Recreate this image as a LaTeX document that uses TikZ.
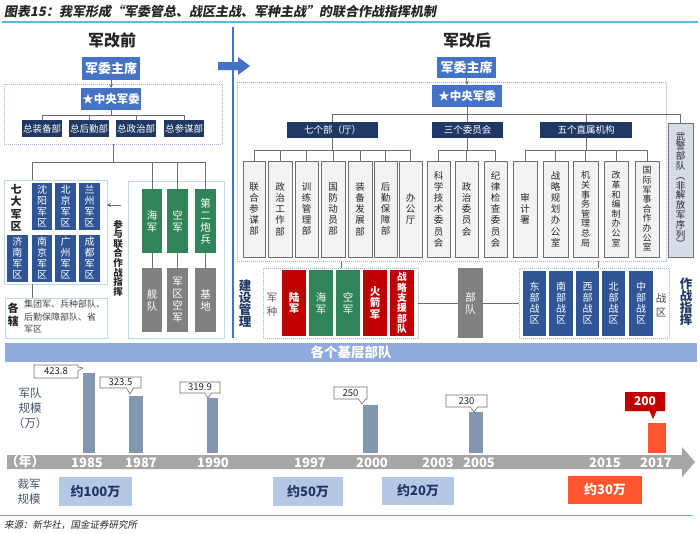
\documentclass[tikz,border=0pt]{standalone}
\usepackage{fontspec}
\setmainfont{Noto Sans CJK SC}
\newfontfamily\ttlfont[FakeSlant=0.18]{Noto Sans CJK SC}
\usetikzlibrary{arrows.meta}
\definecolor{cBlue}{HTML}{4472C4}
\definecolor{cNavy}{HTML}{1F3864}
\definecolor{cReg}{HTML}{2F5597}
\definecolor{cGreen}{HTML}{2F8559}
\definecolor{cGray}{HTML}{808080}
\definecolor{cRed}{HTML}{C00000}
\definecolor{cOr}{HTML}{FF5630}
\definecolor{cBand}{HTML}{8FAADC}
\definecolor{cBar}{HTML}{8497B0}
\definecolor{cLB}{HTML}{B4C7E7}
\definecolor{cVF}{HTML}{F2F2F2}
\definecolor{cWJ}{HTML}{D6DCE5}
\definecolor{cLine}{HTML}{6F6F6F}
\definecolor{cCont}{HTML}{BDD7EE}
\definecolor{cDot}{HTML}{9DB5D8}
\definecolor{cSky}{HTML}{5DB7E2}
\definecolor{cTL}{HTML}{A6A6A6}
\definecolor{cBT}{HTML}{44546A}
\definecolor{cTxt}{HTML}{262626}
\tikzset{
  boxbase/.style={inner sep=0pt, outer sep=0pt, align=center},
  bluebox/.style={fill=cBlue, text=white, font=\bfseries\fontsize{13}{13}\selectfont},
  bluebox2/.style={fill=cBlue, text=white, font=\bfseries\fontsize{11.5}{11.5}\selectfont},
  navybox/.style={fill=cNavy, text=white, font=\fontsize{9.5}{9.5}\selectfont},
  regbox/.style={fill=cReg, text=white, font=\fontsize{10}{11}\selectfont},
  greenbox/.style={fill=cGreen, text=white, font=\fontsize{10.5}{12}\selectfont},
  graybox/.style={fill=cGray, text=white, font=\fontsize{10.5}{12}\selectfont},
  redbox/.style={fill=cRed, text=white, font=\bfseries\fontsize{10.5}{11.5}\selectfont},
  redbox6/.style={fill=cRed, text=white, font=\bfseries\fontsize{9.8}{10.4}\selectfont},
  vbox/.style={fill=cVF, draw=cLine, line width=0.8pt, text=cTxt, font=\fontsize{9.5}{11.2}\selectfont},
  vboxs/.style={vbox, font=\fontsize{9}{9.6}\selectfont},
  cont/.style={draw=cCont, line width=0.7pt, fill=white},
  dcont/.style={draw=cDot, line width=0.5pt, dash pattern=on 1pt off 1pt},
  conn/.style={draw=cLine, line width=0.7pt},
  arr/.style={conn, -{Stealth[length=4pt,width=4pt]}},
  barbox/.style={fill=cBar},
  lbbox/.style={fill=cLB, text=cNavy, font=\bfseries\fontsize{13}{13}\selectfont},
  yearlbl/.style={text=white, font=\bfseries\fontsize{13}{13}\selectfont, inner sep=0pt},
  headtxt/.style={text=cTxt, font=\bfseries\fontsize{16}{16}\selectfont},
  sidetxt/.style={text=cBT, font=\fontsize{11.5}{15}\selectfont, align=center, inner sep=0pt},
  calloutw/.style={fill=white, draw=cLine, line width=0.6pt},
}
\newcommand\mybox[7]{\node[boxbase,#6,minimum width={(#4-#2)*1pt},minimum height={(#5-#3)*1pt}] (#1) at ({(#2+#4)/2},{(#3+#5)/2}) {#7};}
\newcommand\mycallout[9]{%
  \path[#8] (#2,#3) -- (#4,#3) -- (#4,#5) -- ({#6+3.5},#5) -- (#6,#7) -- ({#6-3.5},#5) -- (#2,#5) -- cycle;
  \node[inner sep=0pt] (#1) at ({(#2+#4)/2},{(#3+#5)/2}) {#9};}
\begin{document}
\begin{tikzpicture}[x=1pt,y=-1pt]
\useasboundingbox (0,0) rectangle (700,533);
\fill[white] (0,0) rectangle (700,533);
% title
\node[anchor=west, inner sep=0pt, text=cTxt, font=\ttlfont\bfseries\fontsize{13}{13}\selectfont] (title) at (4,12) {图表15：我军形成“军委管总、战区主战、军种主战”的联合作战指挥机制};
\draw[cSky, line width=1.5pt] (2,22) -- (698,22);
% divider and arrow
\draw[cBlue, line width=1.5pt] (233,27) -- (233,338);
\fill[cBlue] (218,62) -- (238,62) -- (238,57) -- (250,66) -- (238,75) -- (238,70) -- (218,70) -- cycle;

%================ LEFT ================
\node[headtxt] (lhead) at (112,40) {军改前};
\mybox{lcont}{4}{84}{222}{144}{dcont}{}
\mybox{ljw}{82}{57}{140}{80}{bluebox}{军委主席}
\mybox{lzy}{81}{88}{141}{110}{bluebox2}{★中央军委}
\draw[arr] (ljw.south) -- (lzy.north);
\mybox{lz1}{22}{120}{62}{137}{navybox}{总装备部}
\mybox{lz2}{69}{120}{109}{137}{navybox}{总后勤部}
\mybox{lz3}{116}{120}{156}{137}{navybox}{总政治部}
\mybox{lz4}{164}{120}{204}{137}{navybox}{总参谋部}
\foreach \c in {lz1,lz2,lz3,lz4} \draw[conn] (lzy.south) -- ++(0,5) -| (\c.north);

\mybox{qd}{4}{180}{107}{284}{cont}{}
\node[boxbase, text=cTxt, font=\bfseries\fontsize{11}{12.5}\selectfont] (qdt) at (16,208) {七\\大\\军\\区};
\mybox{r1}{32}{183}{52}{230}{regbox}{沈\\阳\\军\\区}
\mybox{r2}{55}{183}{76}{230}{regbox}{北\\京\\军\\区}
\mybox{r3}{79}{183}{100}{230}{regbox}{兰\\州\\军\\区}
\mybox{r4}{7}{235}{28}{282}{regbox}{济\\南\\军\\区}
\mybox{r5}{32}{235}{52}{282}{regbox}{南\\京\\军\\区}
\mybox{r6}{55}{235}{76}{282}{regbox}{广\\州\\军\\区}
\mybox{r7}{79}{235}{100}{282}{regbox}{成\\都\\军\\区}

\mybox{gx}{5}{298}{107}{338}{cont}{}
\node[boxbase, text=cTxt, font=\bfseries\fontsize{11}{13}\selectfont] (gxt) at (13,315) {各\\辖};
\node[anchor=north west, inner sep=0pt, align=left, text=cTxt!85, font=\fontsize{9}{12.5}\selectfont] (gxd) at (24,300) {集团军、兵种部队、\\后勤保障部队、省\\军区};

\mybox{jz}{128}{181}{224}{338}{cont}{}
\mybox{g1}{142}{189}{162}{253}{greenbox}{海\\军}
\mybox{g2}{167}{189}{188}{253}{greenbox}{空\\军}
\mybox{g3}{195}{189}{216}{253}{greenbox}{第\\二\\炮\\兵}
\mybox{h1}{142}{268}{162}{332}{graybox}{舰\\队}
\mybox{h2}{167}{268}{188}{332}{graybox}{军\\区\\空\\军}
\mybox{h3}{195}{268}{216}{332}{graybox}{基\\地}
\draw[conn] (g1.south) -- (h1.north);
\draw[conn] (g2.south) -- (h2.north);
\draw[conn] (g3.south) -- (h3.north);
\draw[conn] (lcont.south) -- ++(0,18) -| (qd.north -| 32,0);
\foreach \c in {g1,g2,g3} \draw[conn] (lcont.south) -- ++(0,18) -| (\c.north);
\draw[conn] (qd.south -| 32,0) -- (gx.north -| 32,0);
\coordinate (cyar) at (121,205);
\draw[arr] (cyar) -- (qd.east |- cyar);
\node[boxbase, text=cTxt, font=\bfseries\fontsize{9.5}{9.6}\selectfont] (cy) at (118,258) {参\\与\\联\\合\\作\\战\\指\\挥};

%================ RIGHT ================
\node[headtxt] (rhead) at (467,40) {军改后};
\mybox{rcont}{237}{82}{666}{261}{dcont}{}
\mybox{rjw}{437}{57}{496}{78}{bluebox}{军委主席}
\mybox{rzy}{432}{85}{502}{107}{bluebox2}{★中央军委}
\draw[arr] (rjw.south) -- (rzy.north);
\mybox{qgb}{287}{122}{378}{138}{navybox}{七个部（厅）}
\mybox{sgw}{432}{122}{503}{138}{navybox}{三个委员会}
\mybox{wgz}{540}{122}{632}{138}{navybox}{五个直属机构}
\mybox{wj}{668}{123}{693}{257}{fill=cWJ, draw=cLine, line width=0.8pt, text=cTxt, font=\fontsize{9.5}{9.8}\selectfont}{武\\警\\部\\队\\︵\\非\\解\\放\\军\\序\\列\\︶}
\foreach \c in {qgb,sgw,wgz,wj} \draw[conn] (rzy.south) -- ++(0,7) -| (\c.north);

\mybox{v1}{243}{161}{265}{257}{vbox}{联\\合\\参\\谋\\部}
\mybox{v2}{268}{161}{292}{257}{vbox}{政\\治\\工\\作\\部}
\mybox{v3}{295}{161}{318}{257}{vbox}{训\\练\\管\\理\\部}
\mybox{v4}{321}{161}{345}{257}{vbox}{国\\防\\动\\员\\部}
\mybox{v5}{348}{161}{372}{257}{vbox}{装\\备\\发\\展\\部}
\mybox{v6}{374}{161}{397}{257}{vbox}{后\\勤\\保\\障\\部}
\mybox{v7}{399}{161}{422}{257}{vbox}{办\\公\\厅}
\foreach \c in {v1,v2,v3,v4,v5,v6,v7} \draw[conn] (qgb.south) -- ++(0,12) -| (\c.north);
\mybox{c1}{427}{161}{450}{257}{vbox}{科\\学\\技\\术\\委\\员\\会}
\mybox{c2}{455}{161}{478}{257}{vbox}{政\\治\\委\\员\\会}
\mybox{c3}{484}{161}{507}{257}{vbox}{纪\\律\\检\\查\\委\\员\\会}
\foreach \c in {c1,c2,c3} \draw[conn] (sgw.south) -- ++(0,12) -| (\c.north);
\mybox{d1}{513}{161}{537}{257}{vbox}{审\\计\\署}
\mybox{d2}{543}{161}{568}{257}{vbox}{战\\略\\规\\划\\办\\公\\室}
\mybox{d3}{573}{161}{598}{257}{vboxs}{机\\关\\事\\务\\管\\理\\总\\局}
\mybox{d4}{604}{161}{628}{257}{vboxs}{改\\革\\和\\编\\制\\办\\公\\室}
\mybox{d5}{635}{161}{659}{257}{vboxs}{国\\际\\军\\事\\合\\作\\办\\公\\室}
\foreach \c in {d1,d2,d3,d4,d5} \draw[conn] (wgz.south) -- ++(0,12) -| (\c.north);

\node[boxbase, text=cNavy, font=\bfseries\fontsize{12.5}{12}\selectfont] (jsgl) at (245,304) {建\\设\\管\\理};
\node[boxbase, text=cNavy, font=\bfseries\fontsize{12.5}{12}\selectfont] (zzzh) at (686,302) {作\\战\\指\\挥};

\mybox{jzR}{263}{268}{418}{338}{dcont}{}
\node[boxbase, text=cTxt!75, font=\fontsize{10.5}{14}\selectfont] (jzt) at (272,305) {军\\种};
\mybox{lj}{282}{270}{306}{336}{redbox}{陆\\军}
\mybox{hj}{309}{270}{333}{336}{greenbox}{海\\军}
\mybox{kj}{336}{270}{360}{336}{greenbox}{空\\军}
\mybox{hjj}{363}{270}{387}{336}{redbox}{火\\箭\\军}
\mybox{zl}{390}{270}{414}{336}{redbox6}{战\\略\\支\\援\\部\\队}
\mybox{bd}{458}{268}{483}{338}{graybox}{部\\队}
\mybox{zq}{519}{268}{669}{338}{dcont}{}
\mybox{e1}{523}{271}{546}{336}{regbox}{东\\部\\战\\区}
\mybox{e2}{549}{271}{573}{336}{regbox}{南\\部\\战\\区}
\mybox{e3}{576}{271}{599}{336}{regbox}{西\\部\\战\\区}
\mybox{e4}{602}{271}{625}{336}{regbox}{北\\部\\战\\区}
\mybox{e5}{629}{271}{653}{336}{regbox}{中\\部\\战\\区}
\node[boxbase, text=cTxt!85, font=\fontsize{10.5}{14}\selectfont] (zqt) at (661,305) {战\\区};
\draw[conn] (rcont.south -| 341,0) -- (jzR.north -| 341,0);
\draw[conn] (rcont.south -| 598,0) -- (zq.north -| 598,0);
\draw[conn] (jzR.east) -- (bd.west);
\draw[conn] (bd.east) -- (zq.west);

% band
\mybox{band}{5}{343}{697}{362}{fill=cBand, text=white, font=\bfseries\fontsize{13.5}{13.5}\selectfont}{各个基层部队}

%================ TIMELINE ================
\node[sidetxt] (jdgm) at (30,408) {军队\\规模\\（万）};
\node[sidetxt] (cjgm) at (29,492) {裁军\\规模};
\mybox{b85}{83}{373}{95}{453}{barbox}{}
\mybox{b87}{129}{396}{143}{453}{barbox}{}
\mybox{b90}{207}{398}{218}{453}{barbox}{}
\mybox{b00}{363}{405}{378}{453}{barbox}{}
\mybox{b05}{469}{412}{483}{453}{barbox}{}
\mybox{b17}{648}{423}{666}{453}{fill=cOr}{}
% 423.8 callout (tail to the right)
\path[calloutw] (34,365) -- (78,365) -- (78,367) -- (83,368) -- (78,371) -- (78,378) -- (34,378) -- cycle;
\node[inner sep=0pt, text=cTxt, font=\fontsize{9.5}{9.5}\selectfont] (l85) at (56,371.5) {423.8};
\mycallout{l87}{100}{377}{141}{388}{130}{394}{calloutw}{\color{cTxt}\fontsize{9.5}{9.5}\selectfont 323.5}
\mycallout{l90}{180}{382}{220}{393}{208}{398}{calloutw}{\color{cTxt}\fontsize{9.5}{9.5}\selectfont 319.9}
\mycallout{l00}{334}{387}{367}{399}{362}{404}{calloutw}{\color{cTxt}\fontsize{9.5}{9.5}\selectfont 250}
\mycallout{l05}{446}{395}{487}{407}{474}{412}{calloutw}{\color{cTxt}\fontsize{9.5}{9.5}\selectfont 230}
\mycallout{l17}{625}{392}{665}{411}{653}{419}{fill=cRed}{\color{white}\bfseries\fontsize{12}{12}\selectfont 200}

\path[fill=cTL] (7,455) -- (682,455) -- (682,447) -- (695,462) -- (682,477) -- (682,469) -- (7,469) -- cycle;
\node[yearlbl] (ynian) at (25,462) {（年）};
\node[yearlbl] (y85) at (87,463) {1985};
\node[yearlbl] (y87) at (141,463) {1987};
\node[yearlbl] (y90) at (213,463) {1990};
\node[yearlbl] (y97) at (310,463) {1997};
\node[yearlbl] (y00) at (372,463) {2000};
\node[yearlbl] (y03) at (438,463) {2003};
\node[yearlbl] (y05) at (479,463) {2005};
\node[yearlbl] (y15) at (605,463) {2015};
\node[yearlbl] (y17) at (656,463) {2017};

\mybox{cut100}{59}{477}{132}{506}{lbbox}{约100万}
\mybox{cut50}{273}{477}{343}{506}{lbbox}{约50万}
\mybox{cut20}{382}{477}{454}{505}{lbbox}{约20万}
\mybox{cut30}{568}{476}{642}{504}{fill=cOr, text=white, font=\bfseries\fontsize{13}{13}\selectfont}{约30万}

\draw[cSky, line width=1pt] (0,515) -- (693,515);
\node[anchor=west, inner sep=0pt, text=cTxt, font=\ttlfont\fontsize{9.5}{9.5}\selectfont] (src) at (4,525) {来源：新华社，国金证券研究所};
\end{tikzpicture}
\end{document}
